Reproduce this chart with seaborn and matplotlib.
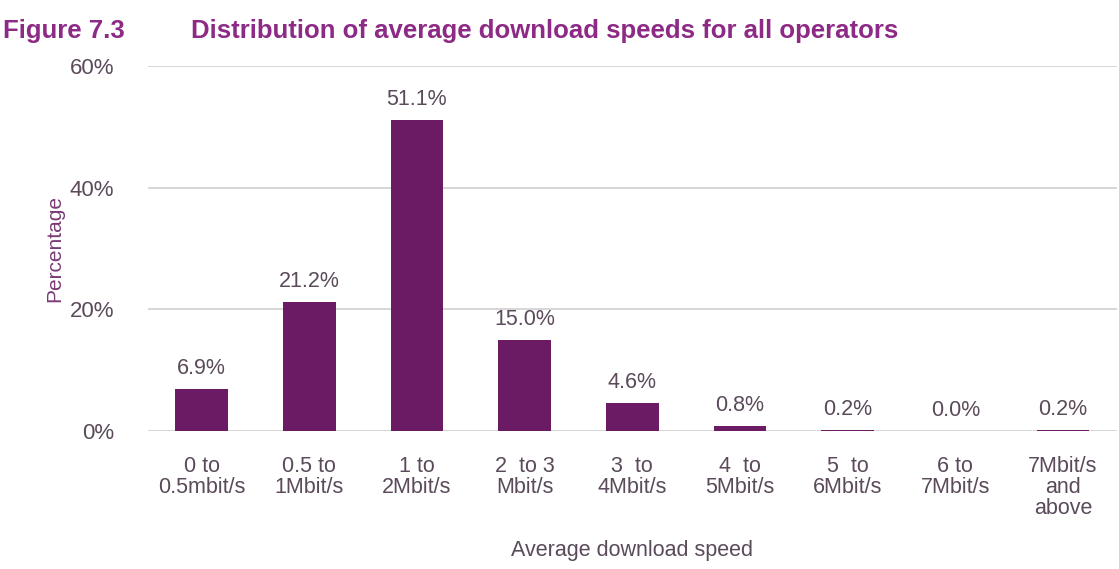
import matplotlib
matplotlib.use("Agg")
import matplotlib.pyplot as plt
import pandas as pd
import seaborn as sns

categories = ["0 to\n0.5mbit/s", "0.5 to\n1Mbit/s", "1 to\n2Mbit/s", "2  to 3\nMbit/s",
              "3  to\n4Mbit/s", "4  to\n5Mbit/s", "5  to\n6Mbit/s", "6 to\n7Mbit/s",
              "7Mbit/s\nand\nabove"]
values = [6.9, 21.2, 51.1, 15.0, 4.6, 0.8, 0.2, 0.0, 0.2]
yticks = [0, 20, 40, 60]

sns.set_style("white")
plt.rcParams["font.family"] = ["Liberation Sans", "DejaVu Sans"]

bar_color = "#6a1b63"
text_color = "#5a4a5a"
title_color = "#8c2a86"

df = pd.DataFrame({"speed": categories, "pct": values})

fig = plt.figure(figsize=(11.19, 5.69), dpi=100)
ax = fig.add_axes([0.132, 0.2425, 0.866, 0.6415])
sns.barplot(data=df, x="speed", y="pct", color=bar_color, width=0.49, saturation=1,
            linewidth=0, ax=ax)

for i, v in enumerate(values):
    ax.text(i, v + 1.6, f"{v:.1f}%", ha="center", va="bottom", fontsize=15.5, color=text_color)

ax.set_ylim(0, 60)
ax.set_xlim(-0.5, len(categories) - 0.5)
ax.set_yticks(yticks)
ax.set_yticklabels([f"{t}%" for t in yticks], fontsize=16, color=text_color)
ax.tick_params(axis="y", length=0, pad=24)
ax.set_xticks(range(len(categories)))
ax.set_xticklabels(categories, fontsize=15.5, color=text_color, linespacing=1.0)
ax.tick_params(axis="x", length=0, pad=18)
ax.yaxis.grid(True, color="#d0d0d0", linewidth=1.2)
ax.set_axisbelow(True)
for s in ax.spines.values():
    s.set_visible(False)

ax.set_ylabel("Percentage", fontsize=15, color="#7a3a75", labelpad=4)
ax.set_xlabel("Average download speed", fontsize=15.5, color=text_color, labelpad=15)

fig.text(0.003, 0.933, "Figure 7.3", fontsize=18.5, fontweight="bold", color=title_color)
fig.text(0.171, 0.933, "Distribution of average download speeds for all operators",
         fontsize=18.5, fontweight="bold", color=title_color)

fig.savefig("out.png", dpi=100)
